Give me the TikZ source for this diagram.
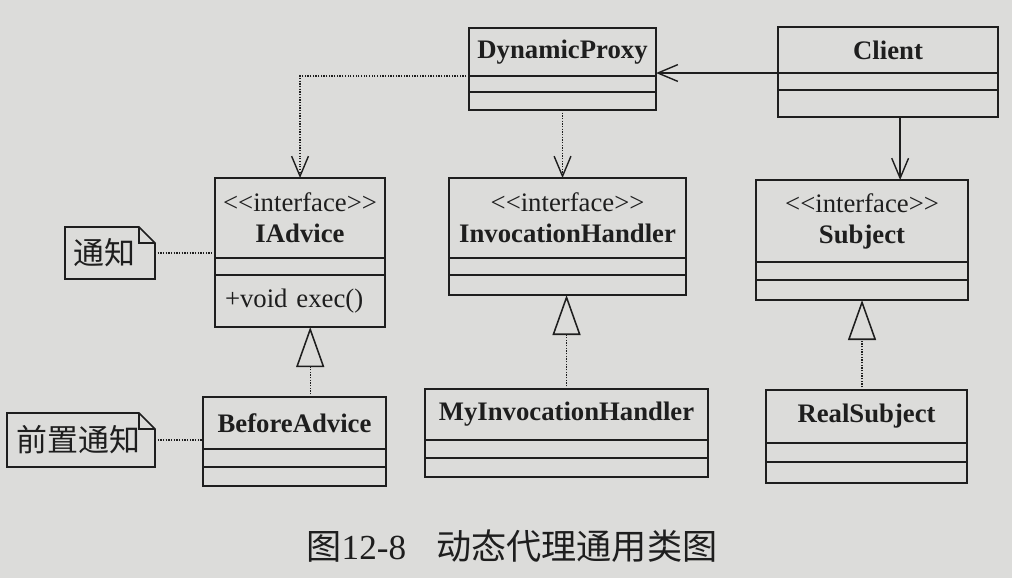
\documentclass[tikz,border=0pt]{standalone}
\usepackage{fontspec}
\setmainfont{Liberation Serif}
\newfontfamily\cjk{Noto Sans CJK SC}
\usetikzlibrary{positioning,calc,arrows.meta}

\definecolor{paper}{RGB}{220,220,218}
\definecolor{ink}{RGB}{30,30,30}

\tikzset{
  classtitle/.style={draw=ink, line width=1.1pt, anchor=north west, align=center, inner sep=0pt, outer sep=0pt},
  classpart/.style={draw=ink, line width=1.1pt, inner sep=0pt, outer sep=0pt},
  notetext/.style={inner ysep=0pt, outer sep=0pt, align=left, font=\fontsize{22}{24}\selectfont\cjk},
  notebox/.style={draw=ink, line width=1.1pt},
  assoc/.style={draw=ink, line width=1pt, -{Straight Barb[length=5mm,width=4.2mm,line width=1pt]}},
  dep/.style={draw=ink, line width=0.9pt, densely dotted, -{Straight Barb[length=5mm,width=4.2mm,line width=1pt,sep=0pt]}},
  realize/.style={draw=ink, line width=0.9pt, densely dotted, -{Triangle[open,length=10mm,width=7mm,line width=1.1pt]}},
  nolink/.style={draw=ink, line width=0.9pt, densely dotted},
}
\newcommand{\stereo}{<{}<interface>{}>}

\begin{document}
\begin{tikzpicture}[x=0.025cm, y=-0.025cm, font=\fontsize{19}{22}\selectfont, text=ink]
  % paper
  \fill[paper] (0,0) rectangle (1012,578);
  \useasboundingbox (0,0) rectangle (1012,578);

  % DynamicProxy
  \node[classtitle, minimum width=4.675cm, minimum height=1.2cm] (dp) at (469,28) {\textbf{DynamicProxy}};
  \node[classpart, below=0pt of dp, minimum width=4.675cm, minimum height=0.4cm] (dp-a) {};
  \node[classpart, below=0pt of dp-a, minimum width=4.675cm, minimum height=0.45cm] (dp-b) {};
  % Client
  \node[classtitle, minimum width=5.5cm, minimum height=1.15cm] (cl) at (778,27) {\textbf{Client}};
  \node[classpart, below=0pt of cl, minimum width=5.5cm, minimum height=0.425cm] (cl-a) {};
  \node[classpart, below=0pt of cl-a, minimum width=5.5cm, minimum height=0.675cm] (cl-b) {};

  % IAdvice
  \node[classtitle, minimum width=4.25cm, minimum height=2cm] (ia) at (215,178) {\stereo\\\textbf{IAdvice}};
  \node[classpart, below=0pt of ia, minimum width=4.25cm, minimum height=0.425cm] (ia-a) {};
  \node[classpart, below=0pt of ia-a, minimum height=1.3cm, text width=3.75cm, inner xsep=0.25cm, align=left] (ia-b) {+void exec()};
  % InvocationHandler
  \node[classtitle, minimum width=5.925cm, minimum height=2cm] (ih) at (449,178) {\stereo\\\textbf{InvocationHandler}};
  \node[classpart, below=0pt of ih, minimum width=5.925cm, minimum height=0.425cm] (ih-a) {};
  \node[classpart, below=0pt of ih-a, minimum width=5.925cm, minimum height=0.5cm] (ih-b) {};
  % Subject
  \node[classtitle, minimum width=5.3cm, minimum height=2.05cm] (sb) at (756,180) {\stereo\\\textbf{Subject}};
  \node[classpart, below=0pt of sb, minimum width=5.3cm, minimum height=0.45cm] (sb-a) {};
  \node[classpart, below=0pt of sb-a, minimum width=5.3cm, minimum height=0.5cm] (sb-b) {};

  % BeforeAdvice
  \node[classtitle, minimum width=4.575cm, minimum height=1.3cm] (ba) at (203,397) {\textbf{BeforeAdvice}};
  \node[classpart, below=0pt of ba, minimum width=4.575cm, minimum height=0.45cm] (ba-a) {};
  \node[classpart, below=0pt of ba-a, minimum width=4.575cm, minimum height=0.475cm] (ba-b) {};
  % MyInvocationHandler
  \node[classtitle, minimum width=7.075cm, minimum height=1.275cm] (mih) at (425,389) {\textbf{MyInvocationHandler}};
  \node[classpart, below=0pt of mih, minimum width=7.075cm, minimum height=0.45cm] (mih-a) {};
  \node[classpart, below=0pt of mih-a, minimum width=7.075cm, minimum height=0.475cm] (mih-b) {};
  % RealSubject
  \node[classtitle, minimum width=5.025cm, minimum height=1.325cm] (rs) at (766,390) {\textbf{RealSubject}};
  \node[classpart, below=0pt of rs, minimum width=5.025cm, minimum height=0.475cm] (rs-a) {};
  \node[classpart, below=0pt of rs-a, minimum width=5.025cm, minimum height=0.525cm] (rs-b) {};

  % Notes
  \node[notetext, minimum height=1.3cm, text width=1.8cm, inner xsep=0.225cm] (n1) at (110,253) {通知};
  \draw[notebox] (n1.north west) -- ($(n1.north east)+(-16,0)$) -- ($(n1.north east)+(0,16)$) -- (n1.south east) -- (n1.south west) -- cycle;
  \draw[notebox] ($(n1.north east)+(-16,0)$) -- ($(n1.north east)+(-16,16)$) -- ($(n1.north east)+(0,16)$);
  \node[notetext, minimum height=1.35cm, text width=3.2cm, inner xsep=0.25cm] (n2) at (81,440) {前置通知};
  \draw[notebox] (n2.north west) -- ($(n2.north east)+(-16,0)$) -- ($(n2.north east)+(0,16)$) -- (n2.south east) -- (n2.south west) -- cycle;
  \draw[notebox] ($(n2.north east)+(-16,0)$) -- ($(n2.north east)+(-16,16)$) -- ($(n2.north east)+(0,16)$);

  % Connectors
  \draw[assoc] (cl.south west) -- (cl.south west -| dp.east);
  \draw[dep] (dp.south west) -| (ia.north);
  \draw[dep] (dp-b.south) -- (dp-b.south |- ih.north);
  \coordinate (clb) at ($(cl-b.south west)!0.555!(cl-b.south east)$);
  \draw[assoc] (clb) -- (clb |- sb.north);
  \coordinate (iab) at ($(ia-b.south west)!0.56!(ia-b.south east)$);
  \draw[realize] (iab |- ba.north) -- (iab);
  \draw[realize] (mih.north) -- (mih.north |- ih-b.south);
  \draw[realize] (sb-b.south |- rs.north) -- (sb-b.south);
  \draw[nolink] (n1.east) -- (n1.east -| ia.west);
  \draw[nolink] (n2.east) -- (n2.east -| ba.west);

  % Caption
  \node[font=\fontsize{25}{28}\selectfont] (cap) at (512,546) {{\cjk 图}12-8\hspace{0.75cm}{\cjk 动态代理通用类图}};
\end{tikzpicture}
\end{document}
